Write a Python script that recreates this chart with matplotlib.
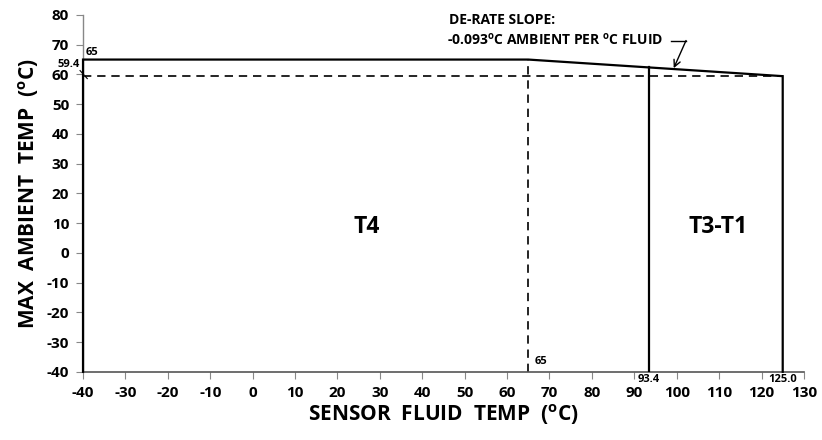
import matplotlib
matplotlib.use("Agg")
import matplotlib.pyplot as plt

plt.rcParams['font.family'] = ['Open Sans', 'DejaVu Sans']
plt.rcParams['mathtext.fontset'] = 'custom'
plt.rcParams['mathtext.rm'] = 'Open Sans'
plt.rcParams['mathtext.bf'] = 'Open Sans:bold'
plt.rcParams['axes.unicode_minus'] = False

# data
x_min, x_max = -40, 130
y_min, y_max = -40, 80
x_ticks = list(range(-40, 131, 10))
y_ticks = list(range(-40, 81, 10))
max_temp = 65.0        # flat limit
knee_x = 65.0          # start of de-rate
slope = -0.093         # de-rate slope
t3_x = 93.4            # T4 / T3-T1 boundary
end_x = 125.0          # max fluid temp
end_y = 59.4           # ambient at end
region_labels = ["T4", "T3-T1"]
region_pos = [(26.8, 8.7), (109.7, 8.7)]

def derate(x):
    return max_temp + slope * (x - knee_x)

fig = plt.figure(figsize=(8.22, 4.40), dpi=100)
ax = fig.add_axes([0.101, 0.155, 0.877, 0.811])
ax.set_xlim(x_min, x_max)
ax.set_ylim(y_min, y_max)

# outline
ox = [x_min, x_min, knee_x, end_x, end_x]
oy = [y_min, max_temp, max_temp, derate(end_x), y_min]
ax.plot(ox, oy, color='black', lw=1.6, solid_joinstyle='miter', clip_on=False, zorder=3)
ax.plot([t3_x, t3_x], [y_min, derate(t3_x)], color='black', lw=1.6, zorder=3)

# dashed guides
ax.plot([x_min, end_x], [end_y, end_y], color='black', lw=1.2, ls=(0, (5, 3.5)), zorder=2)
ax.plot([knee_x, knee_x], [y_min, max_temp], color='black', lw=1.2, ls=(0, (5, 3.5)), zorder=2)

# region labels
for lab, (px, py) in zip(region_labels, region_pos):
    ax.text(px, py, lab, fontsize=16.5, fontweight='bold', ha='center', va='center')

# small value labels
ax.text(x_min + 0.5, max_temp + 0.6, "65", fontsize=8, fontweight='bold', ha='left', va='bottom')
ax.text(x_min - 0.8, 61.6, "59.4", fontsize=8, fontweight='bold', ha='right', va='bottom')
ax.plot([x_min - 0.7, x_min + 1.0], [61.3, 58.6], color='black', lw=0.8, clip_on=False)
ax.text(knee_x + 1.5, y_min + 1.5, "65", fontsize=8, fontweight='bold', ha='left', va='bottom')
ax.text(t3_x, y_min - 0.8, "93.4", fontsize=8, fontweight='bold', ha='center', va='top')
ax.text(end_x, y_min - 0.8, "125.0", fontsize=8, fontweight='bold', ha='center', va='top')

# annotation
ax.text(46.2, 78.3, "DE-RATE SLOPE:", fontsize=10, fontweight='bold', ha='left', va='center')
ax.text(45.8, 71.6, r"-0.093$^{\mathbf{o}}$C AMBIENT PER $^{\mathbf{o}}$C FLUID", fontsize=10,
        fontweight='bold', ha='left', va='center')
ax.plot([98.6, 102.2], [71.3, 71.3], color='black', lw=1.0)
ax.annotate("", xy=(99.3, derate(99.3) + 0.3), xytext=(102.2, 71.4),
            arrowprops=dict(arrowstyle='->', color='black', lw=1.0, shrinkA=0, shrinkB=0,
                            mutation_scale=12))

# axes styling
for s in ['top', 'right']:
    ax.spines[s].set_visible(False)
ax.spines['left'].set_color('#888888')
ax.spines['bottom'].set_color('#555555')
ax.spines['left'].set_linewidth(1.0)
ax.spines['bottom'].set_linewidth(1.2)
ax.set_xticks(x_ticks)
ax.set_yticks(y_ticks)
ax.tick_params(axis='both', direction='out', length=5, color='#888888', labelsize=11, pad=5)
for lab in ax.get_xticklabels() + ax.get_yticklabels():
    lab.set_fontweight('bold')

ax.set_xlabel(r"SENSOR  FLUID  TEMP  ($^{\mathbf{o}}$C)", fontsize=15, fontweight='bold', labelpad=2)
ax.set_ylabel(r"MAX  AMBIENT  TEMP  ($^{\mathbf{o}}$C)", fontsize=15, fontweight='bold', labelpad=4)

fig.savefig("out.png", dpi=100)
